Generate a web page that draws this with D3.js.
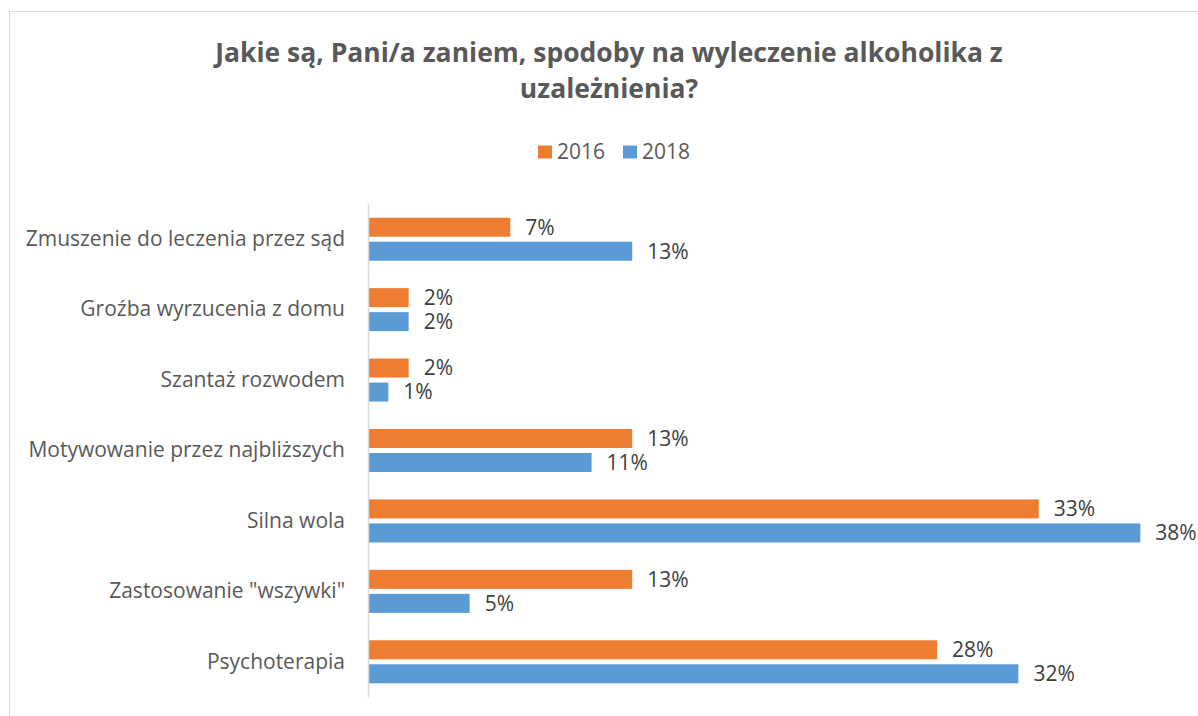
<!DOCTYPE html>
<html>
<head>
<meta charset="utf-8">
<script src="https://cdn.jsdelivr.net/npm/d3@7"></script>
<style>
  body { margin: 0; background: #fff; }
  svg { display: block; font-family: "Open Sans", sans-serif; }
</style>
</head>
<body>
<svg id="chart" width="1198" height="716"></svg>
<script>
// categories top to bottom
let categories = [
  'Zmuszenie do leczenia przez sąd',
  'Groźba wyrzucenia z domu',
  'Szantaż rozwodem',
  'Motywowanie przez najbliższych',
  'Silna wola',
  'Zastosowanie "wszywki"',
  'Psychoterapia'
]
let values2016 = [7, 2, 2, 13, 33, 13, 28]
let values2018 = [13, 2, 1, 11, 38, 5, 32]
let seriesNames = ['2016', '2018']
let seriesColors = ['#ED7D31', '#5B9BD5']

let svg = d3.select('#chart')

// chart frame
svg.append('rect')
   .attr('x', 9.5).attr('y', 11.5)
   .attr('width', 1220).attr('height', 740)
   .attr('fill', 'none')
   .attr('stroke', '#d9d9d9')

// title
let title = svg.append('text')
   .attr('text-anchor', 'middle')
   .attr('fill', '#595959')
   .attr('font-weight', 'bold')
   .attr('font-size', 26.5)
title.append('tspan').attr('x', 609).attr('y', 62)
     .text('Jakie są, Pani/a zaniem, spodoby na wyleczenie alkoholika z')
title.append('tspan').attr('x', 609).attr('y', 98)
     .text('uzależnienia?')

// legend
let legend = svg.append('g')
let legendX = [538, 623]
seriesNames.forEach((name, i) => {
  legend.append('rect')
        .attr('x', legendX[i]).attr('y', 145.5)
        .attr('width', 14).attr('height', 13)
        .attr('fill', seriesColors[i])
  legend.append('text')
        .attr('x', legendX[i] + 19).attr('y', 159)
        .attr('font-size', 21)
        .attr('fill', '#595959')
        .text(name)
})

// scales
let x = d3.scaleLinear().domain([0, 40]).range([368, 1181])
let y = d3.scaleBand().domain(categories).range([204, 697])

let series = [values2016, values2018]
let barH = 19
let offsets = [-21.5, 2.5]

series.forEach((vals, s) => {
  svg.append('g')
     .selectAll('rect')
     .data(vals)
     .enter()
     .append('rect')
     .attr('x', x(0))
     .attr('y', (d, i) => y(categories[i]) + y.bandwidth() / 2 + offsets[s])
     .attr('width', d => x(d) - x(0))
     .attr('height', barH)
     .attr('fill', seriesColors[s])

  svg.append('g')
     .selectAll('text')
     .data(vals)
     .enter()
     .append('text')
     .attr('x', d => x(d) + 15)
     .attr('y', (d, i) => y(categories[i]) + y.bandwidth() / 2 + offsets[s] + barH / 2)
     .attr('dy', '0.35em')
     .attr('font-size', 21)
     .attr('fill', '#404040')
     .text(d => d + '%')
})

// category axis
let axis = svg.append('g')
   .attr('transform', `translate(${x(0)},0)`)
   .call(d3.axisLeft(y).tickSize(0).tickPadding(23))
axis.select('.domain').attr('stroke', '#d9d9d9').attr('stroke-width', 1.5)
axis.selectAll('text')
    .attr('font-size', 21)
    .attr('font-family', '"Open Sans", sans-serif')
    .attr('fill', '#595959')
</script>
</body>
</html>
